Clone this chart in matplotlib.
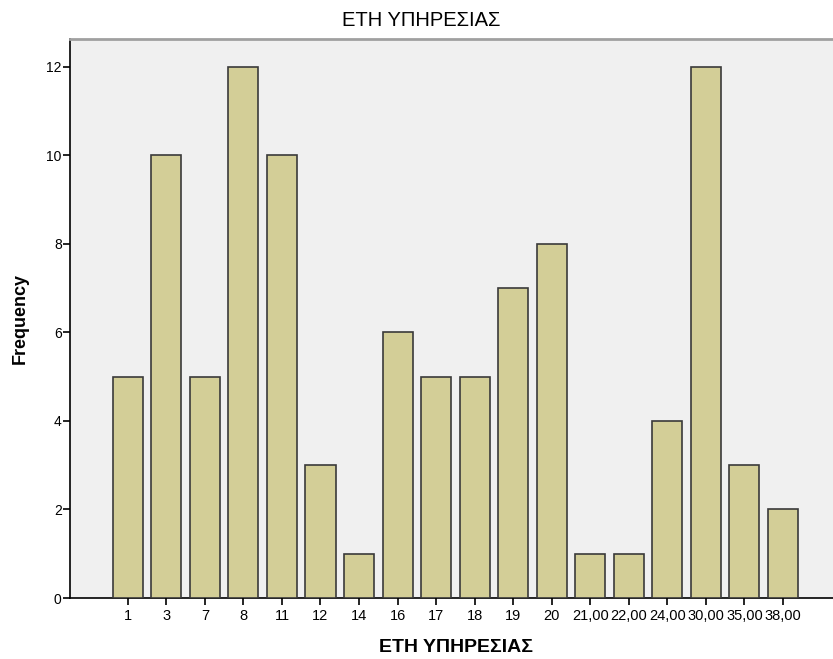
import matplotlib
matplotlib.use("Agg")
import matplotlib.pyplot as plt
import numpy as np

categories = ["1", "3", "7", "8", "11", "12", "14", "16", "17", "18", "19", "20",
              "21,00", "22,00", "24,00", "30,00", "35,00", "38,00"]
frequency = [5, 10, 5, 12, 10, 3, 1, 6, 5, 5, 7, 8, 1, 1, 4, 12, 3, 2]
yticks = [0, 2, 4, 6, 8, 10, 12]

plt.rcParams['font.family'] = ['Liberation Sans', 'DejaVu Sans']

fig = plt.figure(figsize=(8.33, 6.59), dpi=100)
ax = fig.add_axes([70/833, 1-598/659, 1-70/833, (598-39)/659])
ax.set_facecolor('#f0f0f0')

x = np.arange(len(categories))
ax.bar(x, frequency, width=0.78, color='#d3ce97', edgecolor='#3a3a3a', linewidth=1.2, zorder=3)

ax.set_xlim(-1.5, len(categories) - 1 + 1.3)
ax.set_ylim(0, 12.63)
ax.set_xticks(x)
ax.set_xticklabels(categories, fontsize=10.5)
ax.set_yticks(yticks)
ax.set_yticklabels([str(v) for v in yticks], fontsize=10)

ax.spines['left'].set_color('black')
ax.spines['bottom'].set_color('black')
ax.spines['left'].set_linewidth(1.2)
ax.spines['bottom'].set_linewidth(1.2)
ax.spines['top'].set_color('#a0a0a0')
ax.spines['top'].set_linewidth(2)
ax.spines['right'].set_visible(False)
ax.tick_params(axis='x', length=5, width=1.2, pad=3, colors='black')
ax.tick_params(axis='y', length=5, width=1.2, pad=1, colors='black')

fig.text(456/833, 1-648/659, "ΕΤΗ ΥΠΗΡΕΣΙΑΣ", fontsize=14, fontweight='bold', ha='center', va='center')
fig.text(20/833, 1-318/659, "Frequency", fontsize=13, fontweight='bold', rotation=90, ha='center', va='center')
fig.text(421/833, 1-20/659, "ΕΤΗ ΥΠΗΡΕΣΙΑΣ", fontsize=14.5, ha='center', va='center')

fig.savefig("out.png", dpi=100)
